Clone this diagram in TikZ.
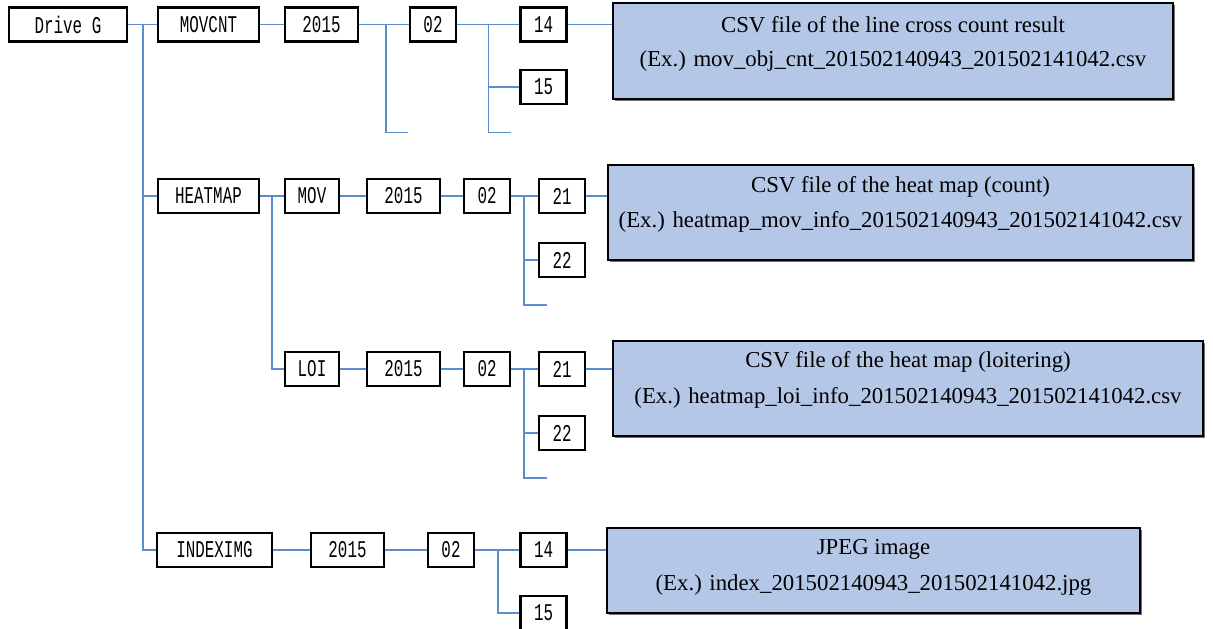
\documentclass[tikz,border=0pt]{standalone}
\usepackage{fontspec}
\setmainfont{Liberation Serif}
\newfontfamily\gothic[FakeStretch=0.66]{Liberation Mono}
\usetikzlibrary{shadows}
\definecolor{linkblue}{HTML}{5B8CCB}
\definecolor{notefill}{HTML}{B4C7E7}
\tikzset{
  x=1pt, y=-1pt,
  dirbox/.style={draw=black, line width=2.2pt, fill=white, minimum height=34pt,
    inner sep=0pt, font=\gothic\fontsize{24}{24}\selectfont},
  notebox/.style={draw=black, line width=2pt, fill=notefill, inner sep=0pt,
    drop shadow={shadow xshift=2pt, shadow yshift=-2pt, fill=black!55, opacity=1}},
  notetext/.style={font=\fontsize{22.8}{22.8}\selectfont, inner sep=0pt},
  link/.style={draw=linkblue, line width=1.4pt},
}
\begin{document}
\begin{tikzpicture}
\useasboundingbox (0,0) rectangle (1213,629);

% ---- MOVCNT branch ----
\node[dirbox, minimum width=118pt] (drive) at (68,24.5) {Drive G};
\node[dirbox, minimum width=101pt] (movcnt) at (208.5,24.5) {MOVCNT};
\node[dirbox, minimum width=73pt] (mcY) at (321.5,24.5) {2015};
\node[dirbox, minimum width=46pt] (mcM) at (433,24.5) {02};
\node[dirbox, minimum width=46pt] (mcD1) at (543.5,24.5) {14};
\node[dirbox, minimum width=46pt] (mcD2) at (543.5,87) {15};
\node[notebox, minimum width=560pt, minimum height=96pt] (mcNote) at (893,51) {};
\node[notetext] at (893,25) {CSV file of the line cross count result};
\node[notetext] at (893,61) {(Ex.) mov\_obj\_cnt\_201502140943\_201502141042.csv};

% ---- HEATMAP branch ----
\node[dirbox, minimum width=101pt] (heat) at (208.5,196) {HEATMAP};
\node[dirbox, minimum width=54pt] (mov) at (312,196) {MOV};
\node[dirbox, minimum width=73pt] (mvY) at (403.5,196) {2015};
\node[dirbox, minimum width=46pt] (mvM) at (487,196) {02};
\node[dirbox, minimum width=46pt] (mvD1) at (562,196) {21};
\node[dirbox, minimum width=46pt] (mvD2) at (562,260) {22};
\node[notebox, minimum width=585pt, minimum height=95pt] (mvNote) at (900.5,212.5) {};
\node[notetext] at (900.5,187) {CSV file of the heat map (count)};
\node[notetext] at (900.5,222) {(Ex.) heatmap\_mov\_info\_201502140943\_201502141042.csv};

\node[dirbox, minimum width=54pt] (loi) at (312,369) {LOI};
\node[dirbox, minimum width=73pt] (loY) at (403.5,369) {2015};
\node[dirbox, minimum width=46pt] (loM) at (487,369) {02};
\node[dirbox, minimum width=46pt] (loD1) at (562,369) {21};
\node[dirbox, minimum width=46pt] (loD2) at (562,433) {22};
\node[notebox, minimum width=590pt, minimum height=95pt] (loNote) at (908,388.5) {};
\node[notetext] at (908,362) {CSV file of the heat map (loitering)};
\node[notetext] at (908,398) {(Ex.) heatmap\_loi\_info\_201502140943\_201502141042.csv};

% ---- INDEXIMG branch ----
\node[dirbox, minimum width=115pt] (idx) at (214.5,550) {INDEXIMG};
\node[dirbox, minimum width=73pt] (ixY) at (347.5,550) {2015};
\node[dirbox, minimum width=46pt] (ixM) at (451,550) {02};
\node[dirbox, minimum width=46pt] (ixD1) at (543.5,550) {14};
\node[dirbox, minimum width=46pt] (ixD2) at (543.5,613) {15};
\node[notebox, minimum width=533pt, minimum height=85pt] (ixNote) at (873.5,570.5) {};
\node[notetext] at (873.5,549) {JPEG image};
\node[notetext] at (873.5,585) {(Ex.) index\_201502140943\_201502141042.jpg};

% ---- free ends of open branches ----
\coordinate (mcYend) at (408,132.5);
\coordinate (mcMend) at (511,132.5);
\coordinate (mvMend) at (547,305);
\coordinate (loMend) at (547,478);

% ---- connectors ----
\draw[link] (drive.east) -- (movcnt.west);
\draw[link] (143,24.5) |- (heat.west);
\draw[link] (143,24.5) |- (idx.west);
\draw[link] (movcnt.east) -- (mcY.west);
\draw[link] (mcY.east) -- (mcM.west);
\draw[link] (386,24.5) |- (mcYend);
\draw[link] (mcM.east) -- (mcD1.west);
\draw[link] (488.5,24.5) |- (mcD2.west);
\draw[link] (488.5,24.5) |- (mcMend);
\draw[link] (mcD1.east) -- (mcNote.west |- mcD1.east);

\draw[link] (heat.east) -- (mov.west);
\draw[link] (272,196) |- (loi.west);
\draw[link] (mov.east) -- (mvY.west);
\draw[link] (mvY.east) -- (mvM.west);
\draw[link] (mvM.east) -- (mvD1.west);
\draw[link] (524,196) |- (mvD2.west);
\draw[link] (524,196) |- (mvMend);
\draw[link] (mvD1.east) -- (mvNote.west |- mvD1.east);

\draw[link] (loi.east) -- (loY.west);
\draw[link] (loY.east) -- (loM.west);
\draw[link] (loM.east) -- (loD1.west);
\draw[link] (524,369) |- (loD2.west);
\draw[link] (524,369) |- (loMend);
\draw[link] (loD1.east) -- (loNote.west |- loD1.east);

\draw[link] (idx.east) -- (ixY.west);
\draw[link] (ixY.east) -- (ixM.west);
\draw[link] (ixM.east) -- (ixD1.west);
\draw[link] (498,550) |- (ixD2.west);
\draw[link] (ixD1.east) -- (ixNote.west |- ixD1.east);
\end{tikzpicture}
\end{document}
